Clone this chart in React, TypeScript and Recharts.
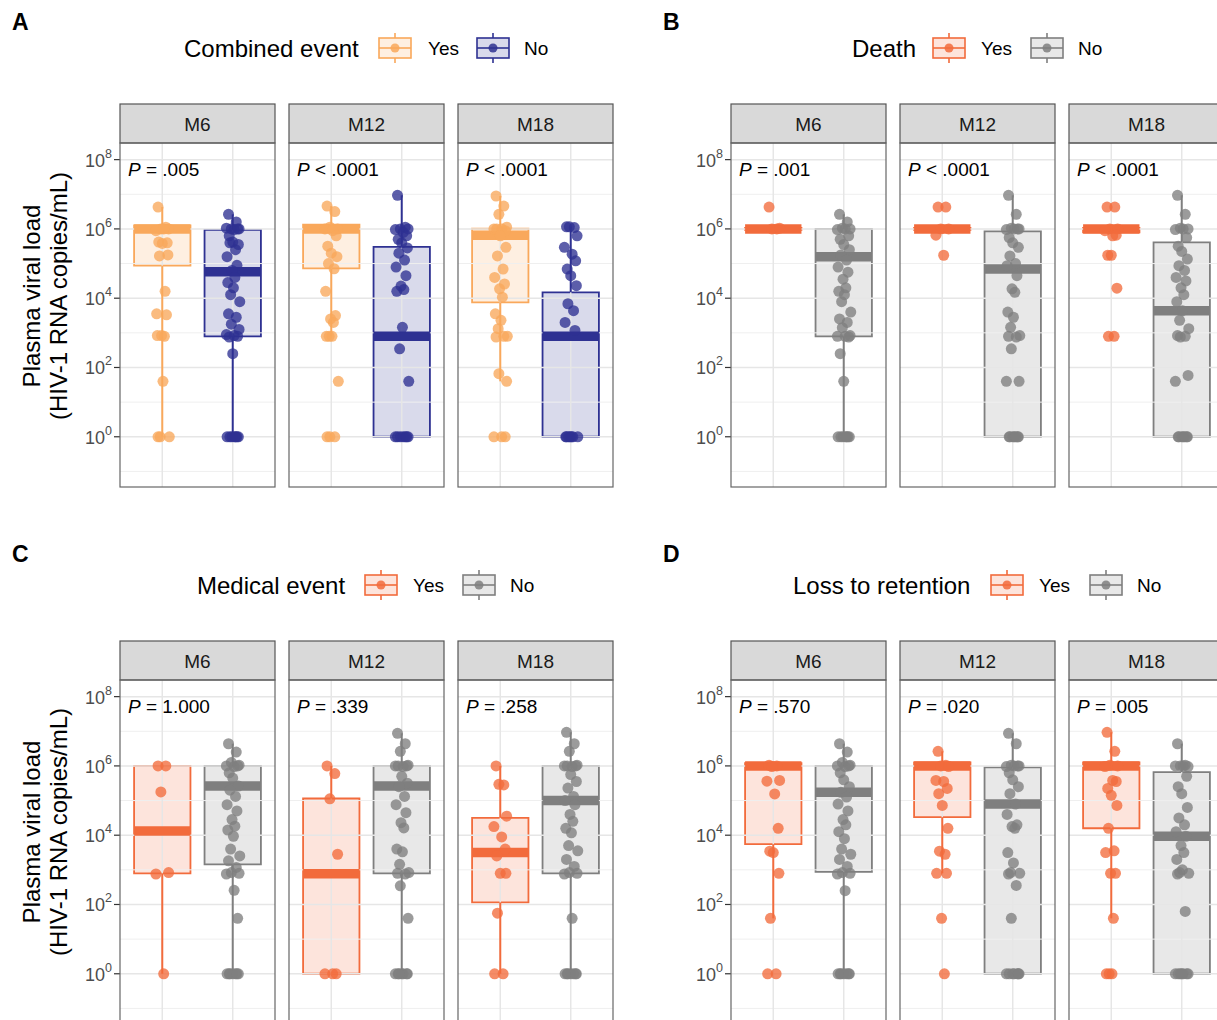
import React from 'react';
import { ComposedChart, XAxis, YAxis, Scatter, ReferenceArea, ReferenceLine } from 'recharts';

// viral load values are read as log10(copies/mL)
const FACETS = ['M6', 'M12', 'M18'];
const GROUPS = ['Yes', 'No'];
const Y_DOMAIN = [-1.45, 8.48];
const Y_MAJOR = [0, 2, 4, 6, 8];
const Y_MINOR = [-1, 1, 3, 5, 7];
const X_POS = [1, 2];
const JITTER = [-0.06, 0.05, -0.02, 0.09, -0.09, 0.02, 0.07, -0.05, 0.0, 0.08, -0.04, 0.04, -0.08, 0.06, -0.01, 0.03, -0.07, 0.01, -0.03, 0.1];

const TITLES = ['Combined event', 'Death', 'Medical event', 'Loss to retention'];
const LETTERS = ['A', 'B', 'C', 'D'];

// box stats per facet: [lower whisker, q1, median, q3, upper whisker]
const A_YES_BOX = [
  [0, 4.94, 6.0, 6.1, 6.63],
  [2.9, 4.86, 6.0, 6.12, 6.66],
  [1.6, 3.88, 5.82, 6.01, 6.95],
];
const A_NO_BOX = [
  [0, 2.9, 4.76, 5.97, 6.42],
  [0, 0, 2.9, 5.48, 6.97],
  [0, 0, 2.9, 4.17, 6.06],
];
const A_YES_PTS = [
  [6.63, 6.05, 6.0, 6.0, 5.95, 6.0, 5.6, 5.62, 5.58, 5.25, 5.22, 4.2, 3.55, 3.52, 2.92, 2.9, 2.92, 1.6, 0, 0, 0],
  [6.66, 6.5, 6.05, 6.0, 6.0, 5.95, 5.8, 5.5, 5.3, 5.2, 5.0, 4.85, 4.2, 3.5, 3.4, 3.3, 2.9, 2.9, 2.9, 1.6, 0, 0, 0],
  [6.95, 6.66, 6.42, 6.05, 6.0, 6.0, 5.95, 6.0, 5.8, 5.47, 5.22, 4.84, 4.6, 4.41, 4.27, 4.03, 3.55, 3.36, 3.12, 2.9, 2.88, 2.9, 1.82, 1.6, 0, 0, 0],
];
const A_NO_PTS = [
  [6.42, 6.2, 6.0, 6.0, 6.02, 5.98, 6.0, 5.8, 5.62, 5.55, 5.6, 5.4, 5.2, 4.95, 4.8, 4.6, 4.45, 4.3, 4.1, 3.9, 3.55, 3.45, 3.25, 3.1, 2.95, 2.92, 2.9, 2.88, 2.4, 0, 0, 0, 0, 0, 0, 0],
  [6.97, 6.05, 6.0, 6.0, 5.98, 5.9, 5.8, 5.7, 5.6, 5.45, 5.3, 5.1, 4.9, 4.65, 4.35, 4.25, 4.2, 3.16, 2.54, 1.6, 0, 0, 0, 0, 0, 0, 0],
  [6.06, 6.04, 6.06, 5.8, 5.47, 5.27, 5.08, 4.84, 4.65, 4.36, 3.84, 3.64, 3.3, 3.07, 0, 0, 0, 0, 0, 0, 0],
];

const B_YES_BOX = [
  [5.97, 5.97, 6.0, 6.03, 6.03],
  [5.97, 5.97, 6.0, 6.03, 6.03],
  [5.9, 5.9, 6.0, 6.03, 6.03],
];
const B_NO_BOX = [
  [0, 2.9, 5.2, 6.0, 6.42],
  [0, 0, 4.84, 5.93, 6.97],
  [0, 0, 3.64, 5.61, 6.97],
];
const B_YES_PTS = [
  [6.63, 6.0, 6.0, 6.02],
  [6.63, 6.63, 6.0, 6.0, 5.82, 5.24],
  [6.63, 6.63, 6.0, 6.0, 5.95, 5.8, 5.82, 5.24, 5.24, 4.29, 2.9, 2.9],
];
const B_NO_PTS = [
  [6.42, 6.2, 6.02, 6.0, 5.98, 6.0, 5.8, 5.7, 5.55, 5.4, 5.25, 5.1, 4.9, 4.75, 4.55, 4.3, 4.2, 4.1, 3.9, 3.6, 3.4, 3.3, 3.15, 2.92, 2.9, 2.9, 2.88, 2.4, 1.6, 0, 0, 0, 0, 0, 0, 0],
  [6.97, 6.42, 6.02, 6.0, 5.98, 6.0, 6.0, 5.75, 5.6, 5.47, 5.22, 5.0, 4.94, 4.65, 4.27, 4.17, 3.6, 3.45, 3.16, 2.92, 2.9, 2.88, 2.54, 1.6, 1.6, 0, 0, 0, 0, 0, 0, 0],
  [6.97, 6.42, 6.02, 6.0, 5.98, 6.0, 5.75, 5.5, 5.35, 5.13, 4.94, 4.8, 4.6, 4.5, 4.3, 4.1, 3.9, 3.64, 3.36, 3.12, 2.92, 2.9, 2.88, 1.77, 1.6, 0, 0, 0, 0, 0, 0, 0],
];

const C_YES_BOX = [
  [0, 2.9, 4.12, 6.0, 6.0],
  [0, 0, 2.89, 5.06, 6.0],
  [0, 2.06, 3.5, 4.5, 6.0],
];
const C_NO_BOX = [
  [0, 3.16, 5.42, 6.0, 6.64],
  [0, 2.9, 5.42, 6.0, 6.94],
  [0, 2.9, 5.0, 6.0, 6.97],
];
const C_YES_PTS = [
  [6.0, 6.0, 5.25, 2.92, 2.88, 0],
  [6.0, 5.78, 5.05, 3.45, 0, 0, 0],
  [6.0, 5.45, 5.47, 4.55, 4.25, 3.95, 3.6, 3.4, 2.9, 2.9, 1.75, 0, 0],
];
const C_NO_PTS = [
  [6.64, 6.4, 6.1, 6.02, 6.0, 5.98, 6.0, 5.8, 5.65, 5.42, 5.3, 5.12, 4.88, 4.7, 4.45, 4.26, 4.15, 3.97, 3.6, 3.4, 3.26, 3.07, 2.92, 2.9, 2.88, 2.41, 1.6, 0, 0, 0, 0, 0, 0, 0],
  [6.94, 6.64, 6.42, 6.02, 6.0, 5.98, 6.0, 6.0, 5.7, 5.5, 5.4, 5.12, 4.88, 4.65, 4.36, 4.21, 3.6, 3.52, 3.16, 2.92, 2.9, 2.88, 2.54, 1.6, 0, 0, 0, 0, 0, 0, 0],
  [6.97, 6.64, 6.42, 6.02, 6.0, 5.98, 6.0, 6.0, 5.75, 5.55, 5.36, 5.12, 5.0, 4.88, 4.6, 4.4, 4.2, 4.07, 3.7, 3.55, 3.3, 3.1, 2.92, 2.9, 2.88, 1.6, 0, 0, 0, 0, 0, 0, 0],
];

const D_YES_BOX = [
  [1.6, 3.74, 6.0, 6.08, 6.08],
  [2.9, 4.52, 6.0, 6.1, 6.42],
  [1.6, 4.2, 6.0, 6.1, 6.97],
];
const D_NO_BOX = [
  [0, 2.94, 5.24, 6.0, 6.64],
  [0, 0, 4.9, 5.96, 6.94],
  [0, 0, 3.97, 5.82, 6.64],
];
const D_YES_PTS = [
  [6.02, 6.0, 5.98, 5.58, 5.56, 5.19, 4.2, 3.54, 3.5, 2.9, 1.6, 0, 0],
  [6.42, 6.02, 6.0, 5.98, 5.58, 5.55, 5.35, 5.2, 4.86, 4.2, 3.54, 3.45, 2.9, 2.9, 1.6, 0],
  [6.97, 6.42, 6.02, 6.0, 5.98, 5.58, 5.55, 5.35, 5.15, 4.86, 4.2, 3.55, 3.5, 2.9, 2.9, 1.6, 0, 0, 0],
];
const D_NO_PTS = [
  [6.64, 6.4, 6.1, 6.02, 6.0, 5.98, 6.0, 5.8, 5.6, 5.4, 5.24, 5.1, 4.9, 4.7, 4.45, 4.3, 4.1, 3.9, 3.6, 3.45, 3.3, 3.1, 2.92, 2.9, 2.88, 2.4, 0, 0, 0, 0, 0, 0, 0],
  [6.94, 6.64, 6.02, 6.0, 5.98, 6.0, 6.0, 5.8, 5.6, 5.4, 5.2, 4.9, 4.6, 4.3, 4.25, 4.2, 3.5, 3.2, 2.92, 2.9, 2.88, 2.55, 1.6, 0, 0, 0, 0, 0, 0, 0],
  [6.64, 6.02, 6.0, 5.98, 6.0, 6.0, 5.7, 5.4, 5.2, 4.8, 4.5, 4.3, 4.1, 3.97, 3.7, 3.5, 3.3, 3.0, 2.92, 2.9, 2.88, 1.8, 0, 0, 0, 0, 0, 0, 0],
];

const A_P = ['= .005', '< .0001', '< .0001'];
const B_P = ['= .001', '< .0001', '< .0001'];
const C_P = ['= 1.000', '= .339', '= .258'];
const D_P = ['= .570', '= .020', '= .005'];

const COMBINED_COLORS = ['#F9A85B', '#2E3192'];
const EVENT_COLORS = ['#F26B3C', '#7F7F7F'];

const FONT = '"Liberation Sans", Arial, Helvetica, sans-serif';
const PW = 155;
const PH = 344;
const AXW = 60;
const COL_LEFTS = [[120, 289, 458], [731, 900, 1069]];
const STRIP_TOP = [104, 641];
const PANEL_TOP = [143, 680];
const LEGEND_Y = [48, 585];
// title, key1, "Yes", key2, "No"
const LEGEND_X = [
  [184, 379, 428, 477, 524],
  [852, 933, 981, 1031, 1078],
  [197, 365, 413, 463, 510],
  [793, 991, 1039, 1090, 1137],
];

const PANELS = [
  { yesBox: A_YES_BOX, noBox: A_NO_BOX, yesPts: A_YES_PTS, noPts: A_NO_PTS, p: A_P, colors: COMBINED_COLORS },
  { yesBox: B_YES_BOX, noBox: B_NO_BOX, yesPts: B_YES_PTS, noPts: B_NO_PTS, p: B_P, colors: EVENT_COLORS },
  { yesBox: C_YES_BOX, noBox: C_NO_BOX, yesPts: C_YES_PTS, noPts: C_NO_PTS, p: C_P, colors: EVENT_COLORS },
  { yesBox: D_YES_BOX, noBox: D_NO_BOX, yesPts: D_YES_PTS, noPts: D_NO_PTS, p: D_P, colors: EVENT_COLORS },
];

const PowTick = (props: any) => {
  const { x, y, payload } = props;
  return (
    <text x={x} y={y + 7} textAnchor="end" fill="#4D4D4D" fontSize={18} fontFamily={FONT}>
      10<tspan dy={-9} fontSize={12.5}>{payload.value}</tspan>
    </text>
  );
};

const Facet = ({ left, top, boxes, points, colors, axis }: any) => {
  const w = PW + (axis ? AXW : 0);
  return (
    <div style={{ position: 'absolute', left: left - (axis ? AXW : 0), top }}>
      <ComposedChart width={w} height={PH} margin={{ top: 0, right: 0, bottom: 0, left: 0 }}>
        <XAxis type="number" dataKey="x" domain={[0.4, 2.6]} hide allowDataOverflow />
        <YAxis
          type="number"
          dataKey="y"
          domain={Y_DOMAIN}
          ticks={Y_MAJOR}
          interval={0}
          allowDataOverflow
          hide={!axis}
          width={AXW}
          axisLine={false}
          tickSize={6}
          tickMargin={2}
          tickLine={{ stroke: '#333', strokeWidth: 1.2 }}
          tick={<PowTick />}
        />
        {Y_MINOR.map((v) => (
          <ReferenceLine key={`mn${v}`} y={v} stroke="#EFEFEF" strokeWidth={1} />
        ))}
        {Y_MAJOR.map((v) => (
          <ReferenceLine key={`mj${v}`} y={v} stroke="#E6E6E6" strokeWidth={1.5} />
        ))}
        {X_POS.map((v) => (
          <ReferenceLine key={`vx${v}`} x={v} stroke="#E6E6E6" strokeWidth={1.5} />
        ))}
        {boxes.map((b: number[], g: number) => {
          const [lo, q1, med, q3, hi] = b;
          const xc = X_POS[g];
          const c = colors[g];
          return (
            <React.Fragment key={`box${g}`}>
              <ReferenceArea x1={xc - 0.4} x2={xc + 0.4} y1={q1} y2={q3} fill={c} fillOpacity={0.18} stroke={c} strokeWidth={1.8} ifOverflow="visible" />
              {lo < q1 && <ReferenceLine segment={[{ x: xc, y: lo }, { x: xc, y: q1 }]} stroke={c} strokeWidth={2} />}
              {hi > q3 && <ReferenceLine segment={[{ x: xc, y: q3 }, { x: xc, y: hi }]} stroke={c} strokeWidth={2} />}
              <ReferenceLine segment={[{ x: xc - 0.4, y: med }, { x: xc + 0.4, y: med }]} stroke={c} strokeWidth={9.5} />
            </React.Fragment>
          );
        })}
        {points.map((pts: number[], g: number) => (
          <Scatter
            key={`pts${g}`}
            data={pts.map((v, i) => ({ x: X_POS[g] + JITTER[i % JITTER.length], y: v }))}
            isAnimationActive={false}
            shape={(p: any) => <circle cx={p.cx} cy={p.cy} r={5.5} fill={colors[g]} fillOpacity={0.78} />}
          />
        ))}
      </ComposedChart>
    </div>
  );
};

const LegendKey = ({ x, cy, color }: any) => (
  <g>
    <line x1={x + 16} x2={x + 16} y1={cy - 15} y2={cy + 15} stroke={color} strokeWidth={1.6} />
    <rect x={x} y={cy - 10} width={32} height={20} fill="#fff" />
    <rect x={x} y={cy - 10} width={32} height={20} fill={color} fillOpacity={0.18} stroke={color} strokeWidth={1.6} />
    <line x1={x} x2={x + 32} y1={cy} y2={cy} stroke={color} strokeWidth={1.6} />
    <circle cx={x + 16} cy={cy} r={4.5} fill={color} fillOpacity={0.85} />
  </g>
);

const App = () => {
  return (
    <div style={{ position: 'absolute', left: 0, top: 0, width: 1217, height: 1020, background: '#fff', overflow: 'hidden', fontFamily: FONT }}>
      {PANELS.map((pn, pi) => {
        const col = pi % 2;
        const row = Math.floor(pi / 2);
        return FACETS.map((f, fi) => (
          <Facet
            key={`${pi}-${f}`}
            left={COL_LEFTS[col][fi]}
            top={PANEL_TOP[row]}
            boxes={[pn.yesBox[fi], pn.noBox[fi]]}
            points={[pn.yesPts[fi], pn.noPts[fi]]}
            colors={pn.colors}
            axis={fi === 0}
          />
        ));
      })}
      <svg width={1217} height={1020} style={{ position: 'absolute', left: 0, top: 0, pointerEvents: 'none' }} fontFamily={FONT}>
        {PANELS.map((pn, pi) => {
          const col = pi % 2;
          const row = Math.floor(pi / 2);
          const lx = LEGEND_X[pi];
          const ly = LEGEND_Y[row];
          return (
            <g key={`ov${pi}`}>
              <text x={col === 0 ? 12 : 663} y={row === 0 ? 29.5 : 561.5} fontSize={23} fontWeight="bold" fill="#000">
                {LETTERS[pi]}
              </text>
              <text x={lx[0]} y={ly + 8.6} fontSize={24} fill="#000">{TITLES[pi]}</text>
              <LegendKey x={lx[1]} cy={ly} color={pn.colors[0]} />
              <text x={lx[2]} y={ly + 6.8} fontSize={19} fill="#000">{GROUPS[0]}</text>
              <LegendKey x={lx[3]} cy={ly} color={pn.colors[1]} />
              <text x={lx[4]} y={ly + 6.8} fontSize={19} fill="#000">{GROUPS[1]}</text>
              {col === 0 && (
                <g transform={`translate(31, ${row === 0 ? 296 : 832}) rotate(-90)`}>
                  <text x={0} y={8.6} textAnchor="middle" fontSize={24} fill="#000">Plasma viral load</text>
                  <text x={0} y={35.6} textAnchor="middle" fontSize={24} fill="#000">(HIV-1 RNA copies/mL)</text>
                </g>
              )}
              {FACETS.map((f, fi) => {
                const x0 = COL_LEFTS[col][fi];
                return (
                  <g key={`s${pi}${fi}`}>
                    <rect x={x0} y={STRIP_TOP[row]} width={PW} height={PANEL_TOP[row] - STRIP_TOP[row]} fill="#D9D9D9" stroke="#555" strokeWidth={1.2} />
                    <text x={x0 + PW / 2} y={STRIP_TOP[row] + 27} textAnchor="middle" fontSize={19} fill="#1A1A1A">{f}</text>
                    <rect x={x0} y={PANEL_TOP[row]} width={PW} height={PH} fill="none" stroke="#666" strokeWidth={1.2} />
                    <text x={x0 + 8} y={PANEL_TOP[row] + 33} fontSize={19} fill="#000">
                      <tspan fontStyle="italic">P</tspan>
                      <tspan>{' ' + pn.p[fi]}</tspan>
                    </text>
                  </g>
                );
              })}
            </g>
          );
        })}
      </svg>
    </div>
  );
};

export default App;
